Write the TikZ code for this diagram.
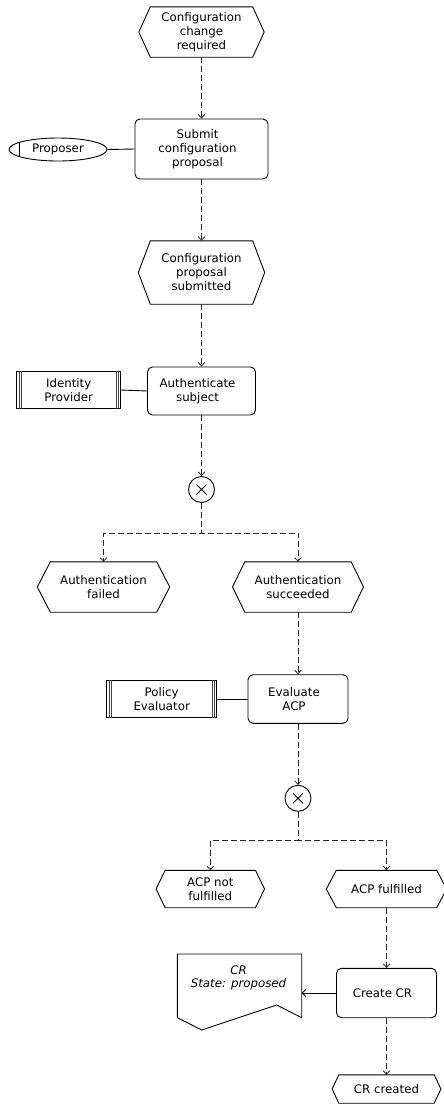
\documentclass[tikz,border=0pt]{standalone}
\usepackage{fontspec}
\setmainfont{DejaVu Sans}
\usetikzlibrary{arrows.meta,shapes.geometric}
\begin{document}
\begin{tikzpicture}[x=1pt,y=-1pt,
  every node/.style={font=\fontsize{11.8}{14}\selectfont, align=center, inner sep=0pt},
  flow/.style={draw=black!85, line width=0.9pt, dash pattern=on 6pt off 3pt,
               -{Straight Barb[length=3.5pt,width=6.5pt,line width=0.8pt]}},
  assoc/.style={draw=black, line width=0.9pt},
  func/.style={draw=black, line width=0.9pt, rounded corners=5pt},
  evtxt/.style={draw=none},
  gate/.style={draw=black, line width=0.9pt, circle, minimum size=26pt},
  sysbox/.style={draw=black, line width=1pt, rectangle},
]
\useasboundingbox (0,0) rectangle (444,1104);

% event: name, x, y, inner width, height, point depth, text
\newcommand\evt[7]{%
  \node[evtxt, minimum width=#4pt, minimum height=#5pt] (#1) at (#2,#3) {#7};
  \draw[line width=0.9pt, line join=miter] (#1.north west) -- (#1.north east) -- ([xshift=#6pt]#1.east)
     -- (#1.south east) -- (#1.south west) -- ([xshift=-#6pt]#1.west) -- cycle;}
% function: name, x, y, width, height, text (text sits slightly left of centre)
\newcommand\fn[6]{%
  \node[func, minimum width=#4pt, minimum height=#5pt] (#1) at (#2,#3) {};
  \node at ([xshift=-4pt]#1.center) {#6};}
% system box with triple edges: name, x, y, width, height, text
\newcommand\sys[6]{%
  \node[sysbox, minimum width=#4pt, minimum height=#5pt] (#1) at (#2,#3) {#6};
  \foreach \o in {2.8,5.3}{
    \draw[line width=0.7pt, black!75] ([xshift=\o pt]#1.north west) -- ([xshift=\o pt]#1.south west);
    \draw[line width=0.7pt, black!75] ([xshift=-\o pt]#1.north east) -- ([xshift=-\o pt]#1.south east);}}
% XOR gateway
\newcommand\xor[3]{%
  \node[gate] (#1) at (#2,#3) {};
  \draw[line width=0.8pt] ([shift={(-5pt,-5pt)}]#1.center) -- ([shift={(5pt,5pt)}]#1.center)
                          ([shift={(-5pt,5pt)}]#1.center) -- ([shift={(5pt,-5pt)}]#1.center);}

% main column
\evt{e1}{201.5}{32}{102}{50}{11.5}{Configuration\\change\\required}
\fn{f1}{201.5}{149}{133}{60}{Submit\\configuration\\proposal}
\evt{e2}{201.5}{272.5}{102}{63}{12}{Configuration\\proposal\\submitted}
\fn{f2}{201.5}{391}{108}{48}{Authenticate\\subject}
\xor{g1}{201.5}{489.5}

% first branch
\evt{e3}{103.5}{587}{106}{50}{13}{Authentication\\failed}
\evt{e4}{298}{587}{106}{50}{12.3}{Authentication\\succeeded}
\fn{f3}{298}{699}{100}{48.6}{Evaluate\\ACP}
\xor{g2}{298}{798.3}

% second branch
\evt{e5}{210.3}{889}{90}{37}{9}{ACP not\\fulfilled}
\evt{e6}{386.5}{889}{100}{37}{10}{ACP fulfilled}
\fn{f4}{386.5}{993}{100}{49.4}{Create CR}
\evt{e7}{386.5}{1089}{95}{28}{6.7}{CR created}

% organisational unit
\node[draw=black, line width=0.9pt, ellipse, minimum width=98pt, minimum height=23pt] (prop) at (58,149.5) {Proposer};
\draw[line width=0.9pt] (19,142.6) -- (19,156.4);
\draw[assoc] (prop.east) -- (f1.west);

% application systems
\sys{idp}{68.7}{390}{104}{36.6}{Identity\\Provider}
\draw[assoc] (idp.east) -- (f2.west);
\sys{pe}{161.7}{699}{110}{36.6}{Policy\\Evaluator}
\draw[assoc] (pe.east) -- (f3.west);

% information object
\draw[line width=0.9pt, line join=miter] (177.3,954) coordinate (docnw) -- (301.7,954) -- (301.7,1017.7) coordinate (docse)
  -- (276.7,1005) -- (201.7,1030) -- (177.3,1017.7) -- cycle;
\node[font=\fontsize{11.8}{13.3}\selectfont\itshape] (doc) at (238.5,978) {CR\\State: proposed};
\coordinate (docin) at (301.7,993);
\draw[assoc, -{Straight Barb[length=3.5pt,width=7pt,line width=0.8pt]}] (f4.west) -- (docin);

% control flow
\draw[flow] (e1.south) -- (f1.north);
\draw[flow] (f1.south) -- (e2.north);
\draw[flow] (e2.south) -- (f2.north);
\draw[flow] (f2.south) -- (g1.north);
\draw[flow] (g1.south) -- ++(0,30) -| (e3.north);
\draw[flow] (g1.south) -- ++(0,30) -| (e4.north);
\draw[flow] (e4.south) -- (f3.north);
\draw[flow] (f3.south) -- (g2.north);
\draw[flow] (g2.south) -- ++(0,29) -| (e5.north);
\draw[flow] (g2.south) -- ++(0,29) -| (e6.north);
\draw[flow] (e6.south) -- (f4.north);
\draw[flow] (f4.south) -- (e7.north);
\end{tikzpicture}
\end{document}
